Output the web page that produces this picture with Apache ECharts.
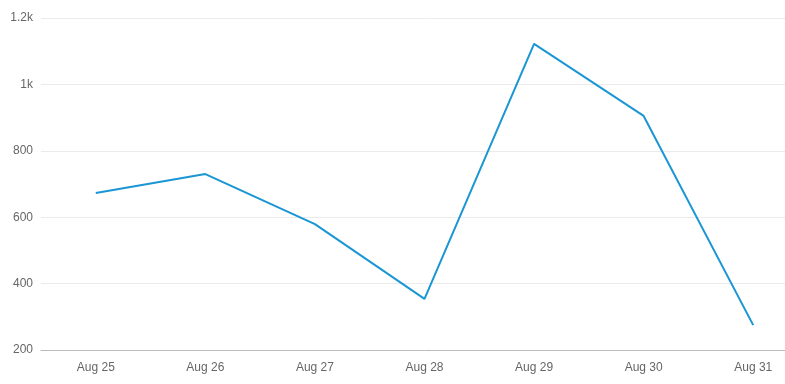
<!DOCTYPE html>
<html><head><meta charset="utf-8">
<script src="https://cdn.jsdelivr.net/npm/echarts@6/dist/echarts.min.js"></script>
<style>html,body{margin:0;padding:0;background:#fff;overflow:hidden;width:785px;height:384px}#c{width:808px;height:384px}</style>
</head><body><div id="c"></div>
<script>
const categories = ['Aug 25','Aug 26','Aug 27','Aug 28','Aug 29','Aug 30','Aug 31'];
const values = [673, 730, 579, 354, 1122, 905, 275];
const yTicks = [200, 400, 600, 800, 1000, 1200];

const chart = echarts.init(document.getElementById('c'));
chart.setOption({
  animation: false,
  grid: { left: 41, right: 0, top: 18, bottom: 34 },
  xAxis: {
    type: 'category', data: categories, boundaryGap: true,
    axisLine: { lineStyle: { color: '#bbb' } },
    axisTick: { alignWithLabel: true, length: 4, lineStyle: { color: '#bbb' } },
    axisLabel: { color: '#666', fontSize: 12, margin: 12, fontFamily: 'Arial, Liberation Sans, sans-serif' }
  },
  yAxis: {
    type: 'value', min: yTicks[0], max: yTicks[yTicks.length-1], interval: 200,
    axisLine: { show: false }, axisTick: { show: false },
    splitLine: { lineStyle: { color: '#ebebeb' } },
    axisLabel: { color: '#666', fontSize: 12, margin: 8, padding: [6, 0, 0, 0], fontFamily: 'Arial, Liberation Sans, sans-serif',
      formatter: v => v >= 1000 ? (v/1000) + 'k' : String(v) }
  },
  series: [{
    type: 'line', data: values, symbol: 'none',
    lineStyle: { color: '#1a96d4', width: 2 }
  }]
});
</script></body></html>
